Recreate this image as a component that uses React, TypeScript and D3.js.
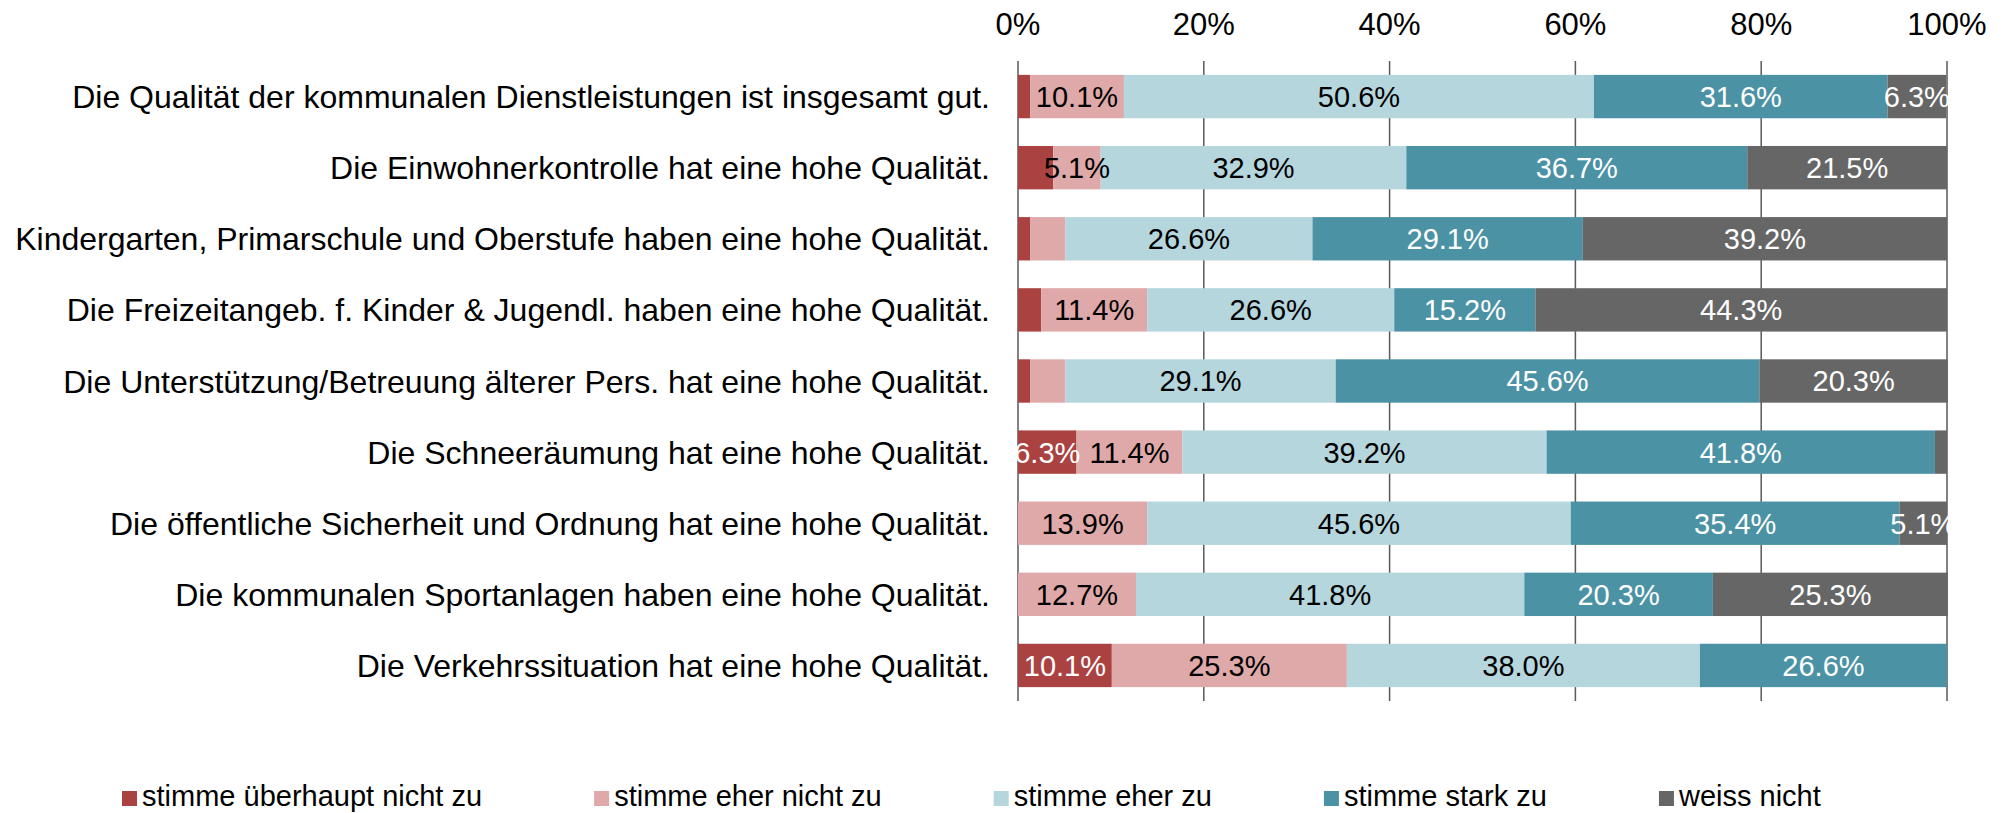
import React, { useEffect, useRef } from "react";
import * as d3 from "d3";

// statements (rows, top to bottom)
const categories = [
  "Die Qualität der kommunalen Dienstleistungen ist insgesamt gut.",
  "Die Einwohnerkontrolle hat eine hohe Qualität.",
  "Kindergarten, Primarschule und Oberstufe haben eine hohe Qualität.",
  "Die Freizeitangeb. f. Kinder & Jugendl. haben eine hohe Qualität.",
  "Die Unterstützung/Betreuung älterer Pers. hat eine hohe Qualität.",
  "Die Schneeräumung hat eine hohe Qualität.",
  "Die öffentliche Sicherheit und Ordnung hat eine hohe Qualität.",
  "Die kommunalen Sportanlagen haben eine hohe Qualität.",
  "Die Verkehrssituation hat eine hohe Qualität.",
];

const seriesNames = [
  "stimme überhaupt nicht zu",
  "stimme eher nicht zu",
  "stimme eher zu",
  "stimme stark zu",
  "weiss nicht",
];

// percentages per series, one value per category
const ueberhauptNicht = [1.3, 3.8, 1.3, 2.5, 1.3, 6.3, 0, 0, 10.1];
const eherNicht = [10.1, 5.1, 3.8, 11.4, 3.8, 11.4, 13.9, 12.7, 25.3];
const eherZu = [50.6, 32.9, 26.6, 26.6, 29.1, 39.2, 45.6, 41.8, 38.0];
const starkZu = [31.6, 36.7, 29.1, 15.2, 45.6, 41.8, 35.4, 20.3, 26.6];
const weissNicht = [6.3, 21.5, 39.2, 44.3, 20.3, 1.3, 5.1, 25.3, 0];

const xTicks = [0, 20, 40, 60, 80, 100];

const colors = ["#aa4242", "#dfa9a9", "#b5d6dd", "#4b92a5", "#666666"];
const labelColors = ["#ffffff", "#000000", "#000000", "#ffffff", "#ffffff"];

const W = 2002;
const H = 813;
const FONT = "'Liberation Sans', Arial, sans-serif";

export default function App() {
  const ref = useRef<SVGSVGElement | null>(null);

  useEffect(() => {
    const svg = d3.select(ref.current);
    svg.selectAll("*").remove();

    const series = [ueberhauptNicht, eherNicht, eherZu, starkZu, weissNicht];
    const rows = categories.map((c, i) => {
      const r: any = { cat: c };
      series.forEach((s, k) => (r["s" + k] = s[i]));
      return r;
    });
    const keys = series.map((_, k) => "s" + k);
    const stacked = d3.stack().keys(keys)(rows);

    const x = d3.scaleLinear().domain([0, 100]).range([1018, 1947]);
    const y = d3
      .scaleBand()
      .domain(categories)
      .range([61, 701])
      .paddingInner(0.39)
      .paddingOuter(0.195);

    // gridlines
    svg
      .append("g")
      .selectAll("line")
      .data(xTicks)
      .join("line")
      .attr("x1", (d) => x(d))
      .attr("x2", (d) => x(d))
      .attr("y1", 61)
      .attr("y2", 701)
      .attr("stroke", "#595959")
      .attr("stroke-width", 1.5);

    // tick labels on top
    svg
      .append("g")
      .selectAll("text")
      .data(xTicks)
      .join("text")
      .attr("x", (d) => x(d))
      .attr("y", 35)
      .attr("text-anchor", "middle")
      .style("font-family", FONT)
      .style("font-size", "31px")
      .text((d) => d + "%");

    // bars
    const layers = svg
      .append("g")
      .selectAll("g")
      .data(stacked)
      .join("g")
      .attr("fill", (d, k) => colors[k]);

    layers
      .selectAll("rect")
      .data((d) => d)
      .join("rect")
      .attr("x", (d) => x(d[0]))
      .attr("width", (d) => x(d[1]) - x(d[0]))
      .attr("y", (d: any) => y(d.data.cat)!)
      .attr("height", y.bandwidth());

    // value labels (segments below 5% carry no label)
    stacked.forEach((layer, k) => {
      svg
        .append("g")
        .selectAll("text")
        .data(layer.filter((d) => d[1] - d[0] >= 5))
        .join("text")
        .attr("x", (d) => x((d[0] + d[1]) / 2))
        .attr("y", (d: any) => y(d.data.cat)! + y.bandwidth() / 2)
        .attr("dy", "0.36em")
        .attr("text-anchor", "middle")
        .attr("fill", labelColors[k])
        .style("font-family", FONT)
        .style("font-size", "29px")
        .text((d) => (d[1] - d[0]).toFixed(1) + "%");
    });

    // category labels
    svg
      .append("g")
      .selectAll("text")
      .data(categories)
      .join("text")
      .attr("x", 990)
      .attr("y", (d) => y(d)! + y.bandwidth() / 2)
      .attr("dy", "0.36em")
      .attr("text-anchor", "end")
      .style("font-family", FONT)
      .style("font-size", "32px")
      .text((d) => d);

    // legend
    const legend = svg.append("g");
    let lx = 122;
    seriesNames.forEach((name, k) => {
      legend
        .append("rect")
        .attr("x", lx)
        .attr("y", 791)
        .attr("width", 15)
        .attr("height", 15)
        .attr("fill", colors[k]);
      const t = legend
        .append("text")
        .attr("x", lx + 20)
        .attr("y", 806)
        .style("font-family", FONT)
        .style("font-size", "29px")
        .text(name);
      const w = (t.node() as SVGTextElement).getComputedTextLength();
      lx += 20 + w + 112;
    });
  }, []);

  return (
    <div style={{ position: "absolute", left: 0, top: 0 }}>
      <svg ref={ref} width={W} height={H} style={{ display: "block", background: "#fff" }} />
    </div>
  );
}
